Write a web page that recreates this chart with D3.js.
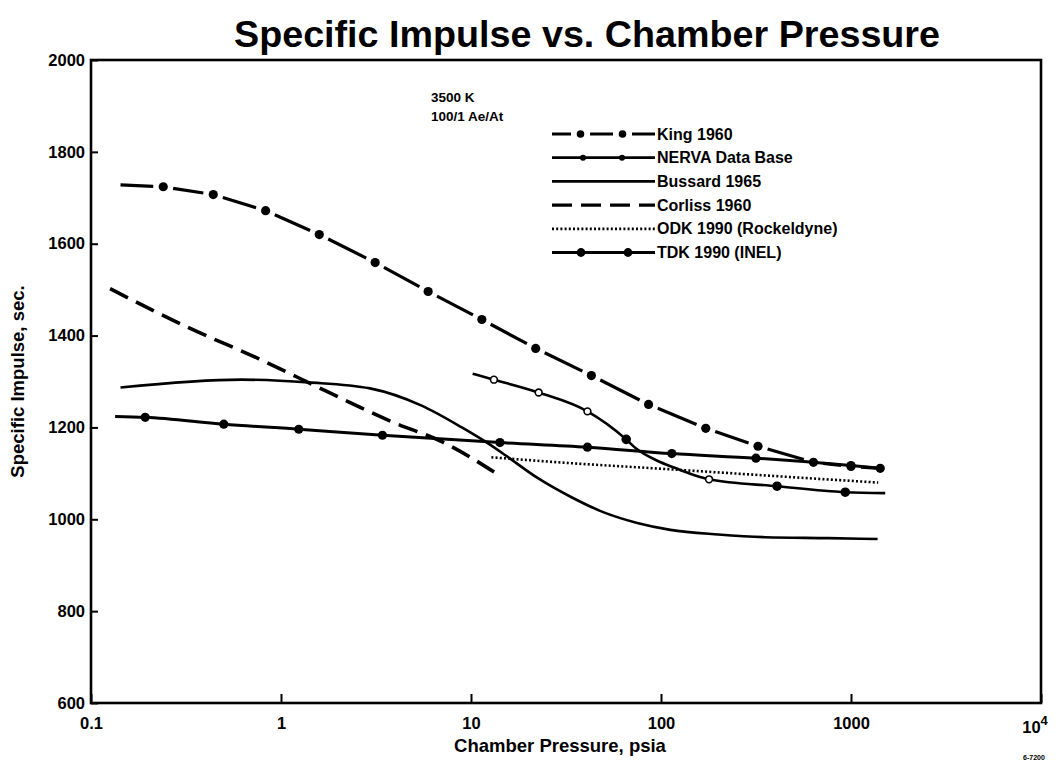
<!DOCTYPE html>
<html>
<head>
<meta charset="utf-8">
<script src="https://cdn.jsdelivr.net/npm/d3@7"></script>
<style>
  body { margin: 0; background: #fff; }
  text { font-family: "Liberation Sans", Arial, Helvetica, sans-serif; font-weight: bold; fill: #000; }
</style>
</head>
<body>
<svg id="chart" width="1061" height="771"></svg>
<script>
// values (pressure in psia, Isp in sec)
const kingX = [0.143, 0.24, 0.44, 0.83, 1.59, 3.13, 5.95, 11.4, 21.9, 43, 86, 172, 324, 634, 1000, 1425];
const kingY = [1728, 1724, 1707, 1672, 1620, 1559, 1496, 1435, 1372, 1313, 1250, 1198, 1159, 1124, 1115, 1111];

const nervaX = [10.2, 13.2, 22.7, 41, 65.6, 74, 95, 120, 150, 179, 408, 933, 1514];
const nervaY = [1317, 1304, 1276, 1235, 1174, 1154, 1128, 1111, 1096, 1087, 1072, 1059, 1057];
const nervaMarks = [1, 2, 3, 4, 9, 10, 11];
const nervaOpen = [true, true, true, false, true, false, false];

const bussardX = [0.143, 0.62, 1.40, 2.94, 5.46, 8.95, 11.8, 15.1, 22.4, 33.8, 50, 75, 112, 200, 355, 760, 1380];
const bussardY = [1287, 1304, 1298, 1285, 1248, 1200, 1170, 1140, 1090, 1048, 1015, 992, 977, 967, 961, 959, 957];

const corlissX = [0.126, 0.335, 0.76, 1.71, 3.9, 7.2, 13.8];
const corlissY = [1502, 1415, 1350, 1280, 1211, 1167, 1098];

const odkX = [12.8, 34, 92, 240, 520, 1390];
const odkY = [1135, 1122, 1111, 1100, 1091, 1080];

const tdkX = [0.134, 0.193, 0.50, 1.24, 3.42, 14.2, 41, 114, 316, 1000, 1425];
const tdkY = [1224, 1222, 1207, 1196, 1183, 1167, 1157, 1143, 1133, 1117, 1111];

const legendNames = ['King 1960', 'NERVA Data Base', 'Bussard 1965', 'Corliss 1960', 'ODK 1990 (Rockeldyne)', 'TDK 1990 (INEL)'];
const notes = ['3500 K', '100/1 Ae/At'];
const xTicks = [0.1, 1, 10, 100, 1000, 10000];
const yTicks = [600, 800, 1000, 1200, 1400, 1600, 1800, 2000];

const svg = d3.select('#chart');

const plotLeft = 91, plotRight = 1041, plotTop = 60, plotBottom = 703;
const x = d3.scaleLog().domain([0.1, 10000]).range([plotLeft, plotRight]);
const y = d3.scaleLinear().domain([600, 2000]).range([plotBottom, plotTop]);

const line = d3.line().x(d => x(d[0])).y(d => y(d[1])).curve(d3.curveMonotoneX);
const zip = (a, b) => a.map((v, i) => [v, b[i]]);

// title
svg.append('text')
  .attr('x', 587)
  .attr('y', 47)
  .attr('text-anchor', 'middle')
  .attr('font-size', 36)
  .attr('textLength', 706)
  .attr('lengthAdjust', 'spacingAndGlyphs')
  .text('Specific Impulse vs. Chamber Pressure');

// axes
const yAxis = svg.append('g')
  .attr('transform', `translate(${plotLeft},0)`)
  .call(d3.axisLeft(y).tickValues(yTicks).tickSize(-7).tickPadding(6).tickFormat(d3.format('d')));
yAxis.select('.domain').remove();
yAxis.selectAll('line').attr('stroke', '#000').attr('stroke-width', 2);
yAxis.selectAll('text').attr('font-size', 16.5).attr('font-family', null);

const xAxis = svg.append('g')
  .attr('transform', `translate(0,${plotBottom})`)
  .call(d3.axisBottom(x).tickValues(xTicks).tickSize(-9).tickPadding(14)
    .tickFormat(d => d === 10000 ? '' : String(d)));
xAxis.select('.domain').remove();
xAxis.selectAll('line').attr('stroke', '#000').attr('stroke-width', 2);
xAxis.selectAll('text').attr('font-size', 16.5).attr('font-family', null);

const sup = svg.append('text')
  .attr('x', x(10000) - 6)
  .attr('y', plotBottom + 30)
  .attr('text-anchor', 'middle')
  .attr('font-size', 16.5);
sup.append('tspan').text('10');
sup.append('tspan').attr('dy', -8).attr('font-size', 13).text('4');

svg.append('rect')
  .attr('x', plotLeft)
  .attr('y', plotTop)
  .attr('width', plotRight - plotLeft)
  .attr('height', plotBottom - plotTop)
  .attr('fill', 'none')
  .attr('stroke', '#000')
  .attr('stroke-width', 2.6);

svg.append('text')
  .attr('transform', `translate(24,${(plotTop + plotBottom) / 2}) rotate(-90)`)
  .attr('text-anchor', 'middle')
  .attr('font-size', 18.5)
  .text('Specific Impulse, sec.');

svg.append('text')
  .attr('x', 560)
  .attr('y', 752)
  .attr('text-anchor', 'middle')
  .attr('font-size', 18.5)
  .text('Chamber Pressure, psia');

svg.append('text')
  .attr('x', 1034)
  .attr('y', 760)
  .attr('text-anchor', 'middle')
  .attr('font-size', 7)
  .text('6-7200');

// curves
const plot = svg.append('g');

// King 1960: dashes broken around the dots
const kingPts = zip(kingX, kingY).map(d => [x(d[0]), y(d[1])]);
const gap = 10;
for (let i = 0; i < kingPts.length - 1; i++) {
  const [x1, y1] = kingPts[i];
  const [x2, y2] = kingPts[i + 1];
  const len = Math.hypot(x2 - x1, y2 - y1);
  const ux = (x2 - x1) / len, uy = (y2 - y1) / len;
  const g1 = i === 0 ? 0 : gap;
  const g2 = i + 1 === kingPts.length - 1 ? 0 : gap;
  plot.append('line')
    .attr('x1', x1 + ux * g1).attr('y1', y1 + uy * g1)
    .attr('x2', x2 - ux * g2).attr('y2', y2 - uy * g2)
    .attr('stroke', '#000').attr('stroke-width', 3.2);
}
for (let i = 1; i < kingX.length - 1; i++) {
  plot.append('circle')
    .attr('cx', x(kingX[i])).attr('cy', y(kingY[i])).attr('r', 4.6);
}

plot.append('path')
  .attr('d', line(zip(bussardX, bussardY)))
  .attr('fill', 'none').attr('stroke', '#000').attr('stroke-width', 2.6);

plot.append('path')
  .attr('d', line(zip(corlissX, corlissY)))
  .attr('fill', 'none').attr('stroke', '#000').attr('stroke-width', 3.6)
  .attr('stroke-dasharray', '20,9');

plot.append('path')
  .attr('d', line(zip(odkX, odkY)))
  .attr('fill', 'none').attr('stroke', '#000').attr('stroke-width', 2.6)
  .attr('stroke-dasharray', '2,2.2');

plot.append('path')
  .attr('d', line(zip(tdkX, tdkY)))
  .attr('fill', 'none').attr('stroke', '#000').attr('stroke-width', 3);
for (let i = 1; i < tdkX.length; i++) {
  plot.append('circle')
    .attr('cx', x(tdkX[i])).attr('cy', y(tdkY[i])).attr('r', 4.6);
}

plot.append('path')
  .attr('d', line(zip(nervaX, nervaY)))
  .attr('fill', 'none').attr('stroke', '#000').attr('stroke-width', 2.6);
nervaMarks.forEach((k, j) => {
  plot.append('circle')
    .attr('cx', x(nervaX[k])).attr('cy', y(nervaY[k]))
    .attr('r', nervaOpen[j] ? 3.4 : 4)
    .attr('fill', nervaOpen[j] ? '#fff' : '#000')
    .attr('stroke', '#000').attr('stroke-width', 1.6);
});

// notes and legend
notes.forEach((t, i) => {
  svg.append('text')
    .attr('x', 431)
    .attr('y', 102 + i * 19)
    .attr('font-size', 13.5)
    .text(t);
});

const lx1 = 552, lx2 = 655;
legendNames.forEach((name, i) => {
  const ly = 134 + i * 23.7;
  const g = svg.append('g');
  if (i === 0) {
    [[lx1, 571], [590, 613], [632, lx2]].forEach(s => {
      g.append('line').attr('x1', s[0]).attr('x2', s[1]).attr('y1', ly).attr('y2', ly)
        .attr('stroke', '#000').attr('stroke-width', 3);
    });
    [580.5, 622.5].forEach(cx => g.append('circle').attr('cx', cx).attr('cy', ly).attr('r', 3.8));
  } else {
    const dash = i === 3 ? '20,9' : i === 4 ? '2,2.2' : null;
    g.append('line').attr('x1', lx1).attr('x2', lx2).attr('y1', ly).attr('y2', ly)
      .attr('stroke', '#000').attr('stroke-width', i === 3 ? 3.4 : 2.8)
      .attr('stroke-dasharray', dash);
    if (i === 1) [583, 622].forEach(cx => g.append('circle').attr('cx', cx).attr('cy', ly).attr('r', 3));
    if (i === 5) [581, 628].forEach(cx => g.append('circle').attr('cx', cx).attr('cy', ly).attr('r', 4.4));
  }
  g.append('text')
    .attr('x', lx2 + 2)
    .attr('y', ly + 5.5)
    .attr('font-size', 16)
    .text(name);
});
</script>
</body>
</html>
